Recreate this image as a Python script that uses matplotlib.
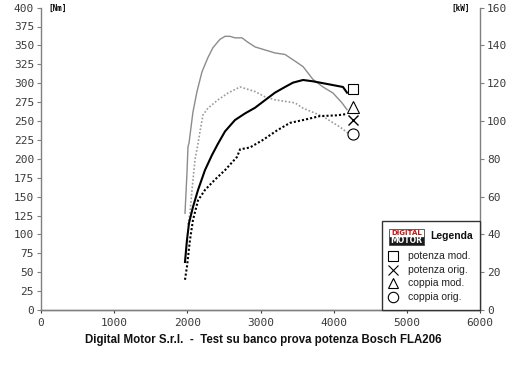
import matplotlib
matplotlib.use('Agg')
from matplotlib import pyplot as plt
from matplotlib.patches import Rectangle

# coppia mod. [Nm] (grey solid)
rpm_cm = [1968, 1995, 2009, 2023, 2077, 2132, 2200, 2282, 2350, 2446, 2515, 2583,
          2651, 2747, 2815, 2925, 3061, 3198, 3335, 3444, 3581, 3717, 3854, 3991, 4114, 4182]
nm_cm = [128, 181, 216, 221, 262, 289, 315, 334, 347, 358, 362, 362,
         360, 360, 355, 348, 344, 340, 338, 331, 322, 305, 295, 287, 274, 265]

# coppia orig. [Nm] (grey dotted)
rpm_co = [2009, 2036, 2064, 2105, 2146, 2173, 2214, 2282, 2419, 2556, 2720, 2925,
          3061, 3198, 3471, 3581, 3854, 4087, 4196]
nm_co = [113, 128, 159, 199, 220, 236, 258, 267, 278, 287, 295, 289,
         282, 278, 274, 267, 256, 242, 234]

# potenza mod. [kW] (black solid)
rpm_pm = [1968, 1995, 2023, 2077, 2146, 2241, 2337, 2419, 2515, 2651, 2788, 2925,
          3061, 3198, 3335, 3444, 3581, 3717, 3854, 3991, 4127, 4182]
kw_pm = [25.4, 37, 46, 54.5, 63.5, 74, 82, 88, 94.5, 100.5, 104, 107,
         111, 115, 118, 120.3, 121.7, 121, 120, 119, 118, 115]

# potenza orig. [kW] (black dotted)
rpm_po = [1968, 1995, 2036, 2077, 2146, 2241, 2378, 2515, 2679, 2720, 2856, 3034,
          3225, 3403, 3581, 3813, 4045, 4182]
kw_po = [16, 23, 37, 47.6, 58, 63.5, 69, 74, 81, 85, 86, 90,
         95, 99, 100.5, 102.6, 103, 103.7]

# end markers
mark_rpm = 4270
mark_pm, mark_po = 117, 100.5   # kW
mark_cm, mark_co = 269, 233     # Nm

legend_labels = ['potenza mod.', 'potenza orig.', 'coppia mod.', 'coppia orig.']
title = 'Digital Motor S.r.l.  -  Test su banco prova potenza Bosch FLA206'

axcol = '#808080'
fig = plt.figure(figsize=(5.2, 3.67), dpi=100)
ax = fig.add_axes([41/520, 57/367, 439/520, 302.4/367])
ax2 = ax.twinx()

ax.plot(rpm_cm, nm_cm, color='#8c8c8c', lw=1.0)
ax.plot(rpm_co, nm_co, color='#9a9a9a', lw=1.2, ls=(0, (1, 1.2)))
ax2.plot(rpm_pm, kw_pm, color='black', lw=1.5)
ax2.plot(rpm_po, kw_po, color='black', lw=1.5, ls=(0, (1, 1)))

ms = 7.5
ax2.plot(mark_rpm, mark_pm, marker='s', ms=ms, mfc='white', mec='black', mew=0.8, clip_on=False)
ax2.plot(mark_rpm, mark_po, marker='x', ms=ms, mec='black', mew=1.0, clip_on=False)
ax.plot(mark_rpm, mark_cm, marker='^', ms=ms+1, mfc='white', mec='black', mew=0.8, clip_on=False)
ax.plot(mark_rpm, mark_co, marker='o', ms=ms+0.5, mfc='white', mec='black', mew=0.8, clip_on=False)

ax.set_xlim(0, 6000)
ax.set_ylim(0, 400)
ax2.set_ylim(0, 160)
ax.set_xticks(range(0, 6001, 1000))
ax.set_yticks(range(0, 401, 25))
ax2.set_yticks(range(0, 161, 20))

for a in (ax, ax2):
    a.spines['top'].set_visible(False)
    for s in ('left', 'right', 'bottom'):
        a.spines[s].set_color(axcol)
        a.spines[s].set_linewidth(1.0)
    a.tick_params(colors='#3a3a3a', length=3, width=0.8, labelsize=8, pad=3)
    for lab in a.get_xticklabels() + a.get_yticklabels():
        lab.set_family('DejaVu Sans Mono')
ax2.spines['left'].set_visible(False)
ax.spines['right'].set_visible(False)
ax.tick_params(axis='x', length=2, pad=4)
ax.tick_params(axis='y', color=axcol, pad=2)
ax2.tick_params(axis='y', color=axcol, pad=2)

fig.text(48/520, 1 - 8/367, '[Nm]', fontsize=5.5, fontweight='bold', family='DejaVu Sans Mono', va='center')
fig.text(470/520, 1 - 8/367, '[kW]', fontsize=5.5, fontweight='bold', family='DejaVu Sans Mono', va='center', ha='right')

fig.text(263/520, 1 - 340/367, title, fontsize=8.3, fontweight='bold',
         family='Liberation Sans', ha='center', va='center', color='#111111')

# legend box
lx0, ly0, lx1, ly1 = 382, 221, 480, 310
fig.patches.append(Rectangle((lx0/520, 1 - ly1/367), (lx1 - lx0)/520, (ly1 - ly0)/367,
                             transform=fig.transFigure, fc='white', ec='#333333', lw=1.0))
# logo
fig.patches.append(Rectangle((389/520, 1 - 236.5/367), 35/520, 7.5/367, transform=fig.transFigure,
                             fc='white', ec='#444444', lw=0.6))
fig.patches.append(Rectangle((389/520, 1 - 244.5/367), 35/520, 8/367, transform=fig.transFigure,
                             fc='#1a1a1a', ec='#444444', lw=0.6))
fig.text(406.5/520, 1 - 232.8/367, 'DIGITAL', fontsize=5, fontweight='bold', color='#d01010',
         ha='center', va='center', family='DejaVu Sans')
fig.text(406.5/520, 1 - 240.5/367, 'MOTOR', fontsize=5.5, fontweight='bold', color='white',
         ha='center', va='center', family='DejaVu Sans')
fig.text(430/520, 1 - 236/367, 'Legenda', fontsize=7.5, fontweight='bold',
         family='Liberation Sans', va='center', color='#111111')

markers = [('s', 6.5), ('x', 6.5), ('^', 7.5), ('o', 7.5)]
ys = [256, 270, 283, 297]
for (m, size), lab, yy in zip(markers, legend_labels, ys):
    fig.lines.append(plt.Line2D([393/520], [1 - yy/367], transform=fig.transFigure, marker=m,
                                ms=size, mfc='white', mec='black', mew=0.8, ls='none'))
    fig.text(408/520, 1 - yy/367, lab, fontsize=7.5, family='Liberation Sans',
             va='center', color='#222222')

fig.savefig('out.png', dpi=100, facecolor='white')
